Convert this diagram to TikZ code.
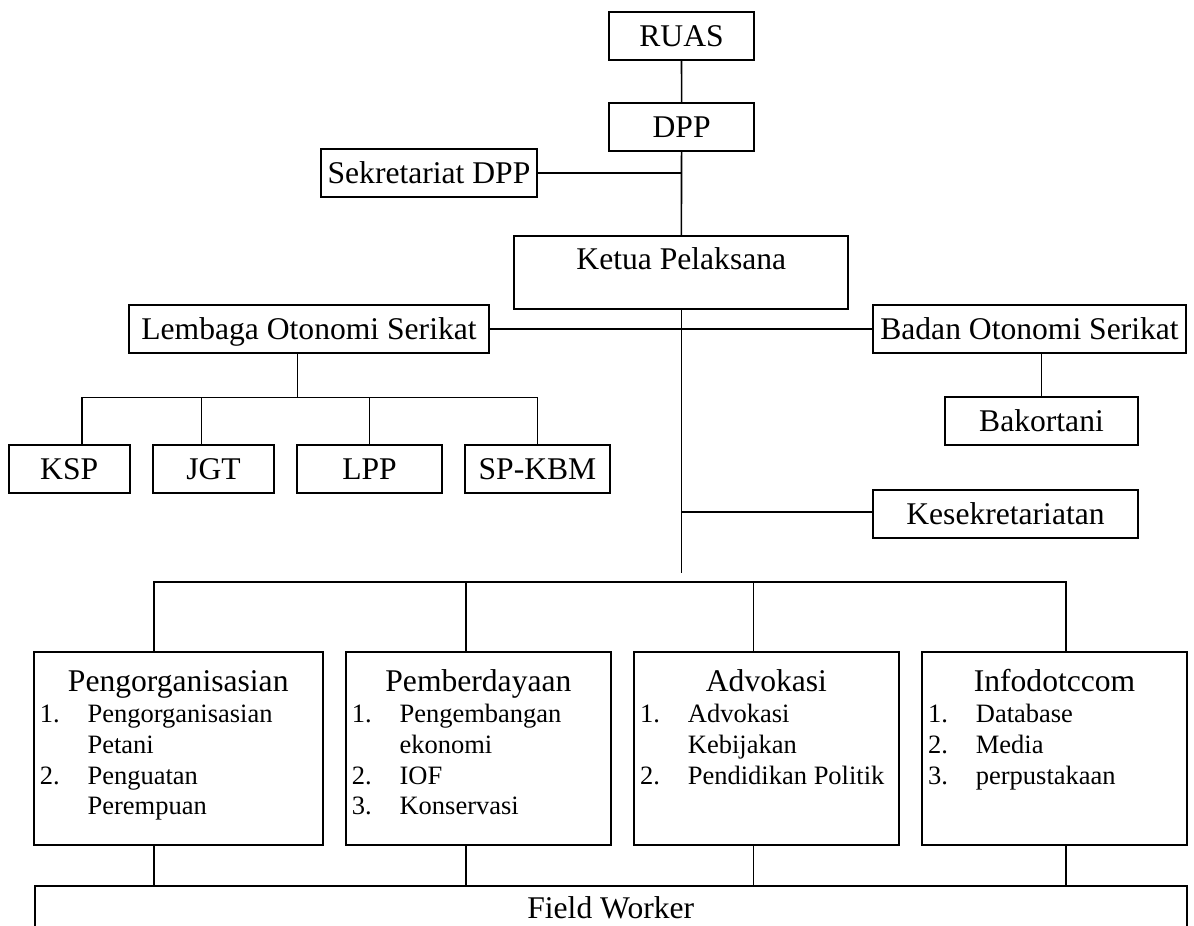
\documentclass[tikz,border=0pt]{standalone}
\usepackage{fontspec}
\setmainfont{Liberation Serif}
\newcommand\li[2]{\par\hspace*{6pt}\makebox[47.7pt][l]{#1}#2}
\newcommand\lc[1]{\par\hspace*{53.7pt}#1}
\newcommand\unitcontent[3]{%
  \parbox[t]{#1}{\setlength\parindent{0pt}\centering\fontsize{31.6}{31.7}\selectfont #2\par
  \raggedright\fontsize{26.5}{30.7}\selectfont #3\par}}
\tikzset{
  box/.style={draw, line width=1.8pt, inner sep=0pt, font=\fontsize{31.6}{36}\selectfont,
    text height=20.7pt, text depth=0pt, minimum height=48pt},
  unit/.style={draw, line width=1.8pt, inner sep=0pt, anchor=north west,
    text height=40pt, text depth=152.7pt},
  conn/.style={line width=1.6pt}
}
\begin{document}
\begin{tikzpicture}[x=1pt,y=-1pt]
\useasboundingbox (0,0) rectangle (1194,926);
% top chain
\node[box, minimum width=144.4pt] (ruas) at (681.5,35.8) {RUAS};
\node[box, minimum width=144.7pt] (dpp) at (681.6,127.2) {DPP};
\node[box, minimum width=216.6pt] (sek) at (429,172.8) {Sekretariat DPP};
\node[box, minimum width=334pt, minimum height=73pt, text depth=27.1pt] (ketua) at (681.3,272.5) {Ketua Pelaksana};
\node[box, minimum width=360.6pt] (lemb) at (309,329.2) {Lembaga Otonomi Serikat};
\node[box, minimum width=313pt] (badan) at (1029.5,329.2) {Badan Otonomi Serikat};
\node[box, minimum width=193pt] (bak) at (1041.5,421.3) {Bakortani};
\node[box, minimum width=121pt] (ksp) at (69.2,468.7) {KSP};
\node[box, minimum width=121pt] (jgt) at (213.5,468.7) {JGT};
\node[box, minimum width=145pt] (lpp) at (369.5,468.7) {LPP};
\node[box, minimum width=145pt] (spk) at (537.5,468.7) {SP-KBM};
\node[box, minimum width=265pt] (kes) at (1005.5,514.3) {Kesekretariatan};
% unit boxes
\node[unit] (peng) at (33,651) {\unitcontent{288.7pt}{Pengorganisasian}{\li{1.}{Pengorganisasian}\lc{Petani}\li{2.}{Penguatan}\lc{Perempuan}}};
\node[unit] (pemb) at (345,651) {\unitcontent{265pt}{Pemberdayaan}{\li{1.}{Pengembangan}\lc{ekonomi}\li{2.}{IOF}\li{3.}{Konservasi}}};
\node[unit] (advo) at (633.3,651) {\unitcontent{264.5pt}{Advokasi}{\li{1.}{Advokasi}\lc{Kebijakan}\li{2.}{Pendidikan Politik}}};
\node[unit] (info) at (921.3,651) {\unitcontent{264.7pt}{Infodotccom}{\li{1.}{Database}\li{2.}{Media}\li{3.}{perpustakaan}}};
\node[box, anchor=north west, minimum width=1152.3pt, minimum height=0pt, text height=32.4pt, text depth=50pt] (fw) at (33.7,885.3) {Field Worker};
% connectors
\draw[conn] (ruas) -- (dpp);
\draw[conn] (dpp) -- (ketua);
\draw[conn] (sek.east) -- (sek.east -| dpp.south);
\coordinate (mend) at (681.7,573.3);
\draw[conn] (ketua.south) -- (ketua.south |- mend);
\draw[conn] (lemb.east) -- (badan.west);
\coordinate (kj) at (681.7,511.7);
\draw[conn] (kj) -- (kj -| kes.west);
\coordinate (lb) at (297.3,397.3);
\draw[conn] (lb |- lemb.south) -- (lb);
\coordinate (b1) at (81.7,397.3);
\coordinate (b2) at (201.3,397.3);
\draw[conn] (ksp.north -| b1) -- (b1) -- (b1 -| spk.north) -- (spk.north);
\draw[conn] (b2) -- (b2 |- jgt.north);
\draw[conn] (lpp.north) -- (lpp.north |- b1);
\draw[conn] (badan.south -| bak.north) -- (bak.north);
\coordinate (c1) at (153.7,582);
\coordinate (c2) at (465.7,582);
\coordinate (c3) at (753.3,582);
\coordinate (c4) at (1065.7,582);
\draw[conn] (c1 |- peng.north) -- (c1) -- (c4) -- (c4 |- info.north);
\draw[conn] (c2) -- (c2 |- pemb.north);
\draw[conn] (c3) -- (c3 |- advo.north);
\draw[conn] (c1 |- peng.south) -- (c1 |- fw.north);
\draw[conn] (c2 |- pemb.south) -- (c2 |- fw.north);
\draw[conn] (c3 |- advo.south) -- (c3 |- fw.north);
\draw[conn] (c4 |- info.south) -- (c4 |- fw.north);
\end{tikzpicture}
\end{document}
